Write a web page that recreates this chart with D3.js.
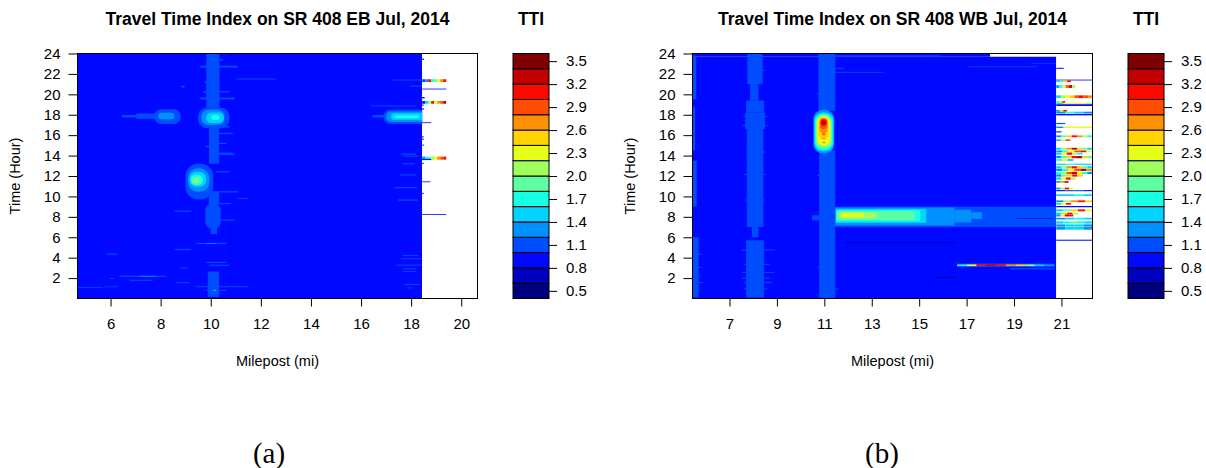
<!DOCTYPE html>
<html>
<head>
<meta charset="utf-8">
<script src="https://cdn.jsdelivr.net/npm/d3@7"></script>
<style>
  html, body { margin: 0; padding: 0; background: #fff; }
  svg { display: block; }
  text { font-family: "Liberation Sans", Arial, sans-serif; fill: #000; }
  text.caption { font-family: "Liberation Serif", "Times New Roman", serif; }
</style>
</head>
<body>
<svg id="chart" width="1206" height="468"></svg>
<script>
// ---- colour key: 16 TTI bands (0.4 .. 3.6, step 0.2) on a jet ramp ----
const ttiLevels = [0.4, 0.6, 0.8, 1.0, 1.2, 1.4, 1.6, 1.8, 2.0, 2.2, 2.4, 2.6, 2.8, 3.0, 3.2, 3.4, 3.6];
const ttiColors = ["#00007F", "#0000C3", "#0008FF", "#004CFF", "#0090FF", "#00D4FF", "#19FFE5", "#5DFFA1",
                   "#A1FF5D", "#E5FF19", "#FFD400", "#FF9000", "#FF4C00", "#FF0800", "#C30000", "#7F0000"];
const ttiTicks = [0.5, 0.8, 1.1, 1.4, 1.7, 2.0, 2.3, 2.6, 2.9, 3.2, 3.5];

// ---- axes ----
const hourDomain = [0, 24];
const hourTicks = [2, 4, 6, 8, 10, 12, 14, 16, 18, 20, 22, 24];
const ebMileDomain = [4.68, 20.65];
const ebMileTicks = [6, 8, 10, 12, 14, 16, 18, 20];
const wbMileDomain = [5.44, 22.31];
const wbMileTicks = [7, 9, 11, 13, 15, 17, 19, 21];
const ebMeasured = [4.68, 18.44];   // mileposts covered by the EB detectors
const wbMeasured = [5.44, 20.78];   // mileposts covered by the WB detectors

// ---- Eastbound ----
// cells: [mileStart, mileEnd, hourStart, hourEnd, TTI]
const ebCells = [
  [4.68, 18.44, 0, 24, 0.9],
  // recurring slow zone around milepost 10
  [9.82, 10.35, 18.7, 24, 1.1], [9.93, 10.33, 13.2, 16.7, 1.1], [9.92, 10.33, 9.2, 10.5, 1.1],
  [10.0, 10.25, 6.3, 6.9, 1.1], [9.88, 10.33, 0.15, 2.65, 1.1],
  [9.55, 11.08, 22.62, 22.8, 1.1], [11.02, 12.62, 21.45, 21.55, 1.1], [8.82, 8.95, 20.65, 20.85, 1.1],
  [9.69, 10.75, 20.18, 20.32, 1.1], [9.55, 10.95, 19.5, 19.68, 1.1], [9.95, 10.75, 16.75, 16.9, 1.1],
  [10.22, 10.88, 16.1, 16.24, 1.1], [10.08, 10.62, 15.12, 15.26, 1.1], [9.95, 10.88, 14.16, 14.3, 1.1],
  [10.35, 10.95, 14.05, 14.18, 1.1], [10.22, 10.75, 12.36, 12.48, 1.1], [10.08, 11.08, 10.38, 10.52, 1.1],
  [11.08, 11.48, 9.74, 9.84, 1.1], [10.22, 10.8, 9.24, 9.36, 1.1], [8.55, 9.22, 8.5, 8.62, 1.1],
  [10.35, 10.95, 7.62, 7.74, 1.1], [9.42, 10.62, 5.33, 5.45, 1.1], [9.82, 10.2, 5.35, 5.43, 1.3],
  [8.55, 9.22, 4.74, 4.86, 1.1], [5.83, 6.29, 4.28, 4.4, 1.1], [9.82, 10.62, 3.48, 3.58, 1.1],
  [9.95, 10.75, 3.2, 3.32, 1.1], [8.75, 9.09, 2.95, 3.05, 1.1], [6.36, 8.22, 2.12, 2.24, 1.1],
  [7.16, 7.82, 2.14, 2.22, 1.3], [6.76, 7.69, 1.74, 1.84, 1.1], [5.96, 6.16, 1.92, 2.0, 1.1],
  [8.62, 9.15, 1.5, 1.6, 1.1], [5.76, 6.29, 1.1, 1.18, 1.1], [9.42, 11.48, 1.1, 1.2, 1.1],
  [4.68, 5.69, 1.02, 1.1, 1.1], [9.82, 10.62, 0.75, 0.86, 1.1], [10.08, 10.22, 0.76, 0.85, 1.5],
  [9.88, 10.35, 0.4, 0.55, 1.1],
  [9.75, 9.92, 21.1, 21.25, 1.1], [10.35, 10.5, 23.3, 23.45, 1.1], [9.78, 9.93, 14.8, 14.95, 1.1],
  // short slowdowns near the east end
  [17.27, 18.44, 21.35, 21.45, 1.1], [17.94, 18.44, 20.76, 20.86, 1.1], [16.4, 18.2, 18.82, 18.92, 1.1],
  [17.6, 18.2, 14.08, 14.2, 1.1], [17.7, 18.3, 13.9, 14.0, 1.1], [17.67, 18.14, 13.15, 13.25, 1.1],
  [17.54, 18.2, 12.05, 12.15, 1.1], [17.34, 18.23, 10.8, 10.92, 1.1], [17.47, 18.27, 9.58, 9.7, 1.1],
  [17.67, 18.3, 4.15, 4.25, 1.1], [17.6, 18.4, 3.85, 3.95, 1.1], [17.4, 18.4, 3.22, 3.32, 1.1],
  [17.67, 18.2, 2.85, 2.95, 1.1], [17.67, 18.2, 2.62, 2.7, 1.1], [17.74, 18.33, 1.33, 1.43, 1.1],
  [17.85, 18.07, 1.0, 1.08, 1.1],
  // faster-than-typical readings at milepost 10.8
  [10.75, 10.85, 23.75, 23.85, 0.7], [10.76, 10.83, 7.0, 7.1, 0.7], [10.76, 10.83, 6.6, 6.7, 0.7],
  [10.76, 10.83, 6.3, 6.4, 0.7], [10.76, 10.83, 5.9, 6.0, 0.7], [10.76, 10.83, 5.6, 5.7, 0.7],
  [10.76, 10.83, 5.3, 5.4, 0.7], [10.76, 10.83, 4.9, 5.0, 0.7], [10.76, 10.83, 4.5, 4.6, 0.7],
  [10.76, 10.83, 4.1, 4.2, 0.7], [10.76, 10.83, 3.7, 3.8, 0.7], [10.76, 10.83, 3.2, 3.3, 0.7],
  [10.76, 10.83, 2.8, 2.9, 0.7], [10.76, 10.83, 2.4, 2.5, 0.7], [10.76, 10.83, 1.9, 2.0, 0.7],
  [10.76, 10.83, 1.5, 1.6, 0.7], [10.76, 10.83, 1.0, 1.1, 0.7], [10.76, 10.83, 0.6, 0.7, 0.7]
];
// blobs (rounded congestion pockets): [mileStart, mileEnd, hourStart, hourEnd, TTI]
const ebBlobs = [
  // PM peak at milepost 10
  [9.49, 10.75, 16.67, 18.72, 1.1], [9.62, 10.55, 17.0, 18.5, 1.3],
  [9.82, 10.52, 17.18, 18.22, 1.5], [10.02, 10.35, 17.5, 17.97, 1.7],
  // PM queue near milepost 8
  [6.45, 7.4, 17.74, 17.97, 1.1], [7.0, 8.0, 17.6, 18.12, 1.1],
  [7.75, 8.8, 17.09, 18.53, 1.1], [7.9, 8.55, 17.55, 18.2, 1.3],
  // midday hotspot near milepost 9.3
  [8.99, 10.1, 9.7, 13.2, 1.1], [9.09, 9.95, 10.45, 12.75, 1.3], [9.15, 9.82, 10.94, 12.42, 1.5],
  [9.2, 9.69, 11.1, 12.1, 1.7], [9.26, 9.6, 11.27, 11.86, 1.9], [9.33, 9.51, 11.37, 11.66, 2.1],
  // AM pocket at milepost 10
  [9.78, 10.4, 6.8, 9.3, 1.1],
  // PM queue at the east end
  [16.45, 17.3, 17.72, 17.98, 1.1], [16.9, 18.9, 17.1, 18.5, 1.1], [17.0, 18.8, 17.3, 18.32, 1.3],
  [17.2, 18.7, 17.5, 18.15, 1.5], [17.35, 18.3, 17.65, 17.95, 1.7]
];
// streaks: [hourStart, hourEnd, mileStart, mileEnd, TTI values along the streak]
const ebStreaks = [
  [23.38, 23.5, 18.44, 18.52, [0.9]],
  [21.2, 21.48, 18.44, 19.4, [1.0, 1.3, 3.1, 1.6, 1.9, 2.3, 2.7, 3.1]],
  [20.48, 20.56, 18.44, 19.4, [0.9]],
  [19.6, 19.74, 18.44, 18.54, [0.9]],
  [19.08, 19.34, 18.44, 19.4, [0.9, 1.5, 2.0, 3.1, 2.3, 2.6, 2.9, 3.2]],
  [18.88, 19.0, 18.44, 18.5, [0.9]],
  [18.5, 18.62, 18.44, 18.52, [0.9]],
  [17.18, 17.26, 18.44, 18.8, [0.9]],
  [15.77, 15.89, 18.44, 18.5, [0.9]],
  [15.54, 15.66, 18.44, 18.5, [0.9]],
  [14.98, 15.07, 18.44, 18.52, [0.9]],
  [13.6, 13.9, 18.44, 19.4, [1.3, 1.6, 1.8, 2.0, 2.3, 2.6, 2.9, 3.1]],
  [13.56, 13.68, 18.44, 18.8, [0.9]],
  [13.17, 13.29, 18.44, 18.5, [0.9]],
  [11.39, 11.47, 18.44, 18.77, [0.9]],
  [10.23, 10.35, 18.44, 18.5, [0.9]],
  [8.19, 8.27, 18.44, 19.4, [0.9]]
];

// ---- Westbound ----
const wbCells = [
  [5.44, 20.78, 0, 23.68, 0.9], [5.44, 17.99, 23.68, 24, 0.9],
  // west end
  [5.44, 5.6, 19.5, 23.8, 1.1], [5.44, 5.55, 14.5, 18.8, 1.1], [5.44, 5.62, 9.0, 13.5, 1.1],
  [5.44, 5.7, 0.1, 6.0, 1.1], [5.44, 5.85, 4.3, 4.4, 1.1], [5.44, 5.8, 3.0, 3.1, 1.1],
  [5.44, 5.9, 1.5, 1.6, 1.1], [5.44, 5.75, 2.2, 2.3, 1.1],
  // all-day slow zone at milepost 8
  [7.75, 8.4, 21.0, 24, 1.1], [7.87, 8.22, 19.4, 21.0, 1.1], [7.7, 8.46, 18.2, 19.4, 1.1],
  [7.66, 8.5, 16.6, 18.2, 1.1], [7.73, 8.43, 7.0, 16.6, 1.1], [7.94, 8.22, 6.0, 7.0, 1.1],
  [7.7, 8.45, 0.1, 5.7, 1.1], [7.5, 8.93, 4.7, 4.8, 1.1], [7.59, 8.8, 1.5, 1.6, 1.1],
  [7.62, 8.7, 3.3, 3.4, 1.1], [7.6, 8.6, 0.9, 1.0, 1.1], [7.55, 8.9, 2.5, 2.58, 1.1],
  [7.5, 8.7, 1.95, 2.05, 1.1], [7.58, 8.6, 17.8, 17.9, 1.1], [7.55, 8.62, 16.9, 17.0, 1.1],
  [7.62, 8.55, 12.1, 12.2, 1.1], [7.65, 8.5, 9.6, 9.7, 1.1], [7.68, 8.55, 14.3, 14.4, 1.1],
  [7.8, 8.5, 22.3, 22.4, 1.1],
  // all-day slow zone at milepost 11
  [10.78, 11.46, 0, 14.5, 1.1], [10.75, 11.46, 18.4, 24, 1.1],
  [11.46, 11.81, 22.5, 22.6, 1.1], [11.46, 13.5, 22.12, 22.2, 1.1], [11.46, 11.6, 0.9, 1.0, 1.1],
  [10.68, 10.78, 20.0, 20.1, 1.1], [10.7, 10.78, 12.0, 12.12, 1.1], [10.7, 10.78, 3.0, 3.1, 1.1],
  // AM peak queue
  [10.48, 11.46, 7.65, 8.15, 1.1], [11.46, 20.78, 7.0, 9.0, 1.1],
  [11.46, 16.5, 7.15, 8.92, 1.3], [16.5, 17.2, 7.45, 8.7, 1.3], [17.2, 17.65, 7.8, 8.45, 1.3],
  [11.48, 15.3, 7.4, 8.78, 1.5], [11.5, 15.05, 7.55, 8.66, 1.7], [11.55, 14.8, 7.7, 8.55, 1.9],
  [11.6, 13.2, 7.85, 8.45, 2.1], [11.7, 12.65, 7.95, 8.38, 2.3], [19.12, 20.66, 7.8, 7.88, 0.9],
  // night-time lows and other streaks
  [11.81, 16.52, 5.47, 5.53, 0.5], [15.72, 16.52, 2.02, 2.09, 0.5],
  [16.6, 20.7, 3.1, 3.42, 1.1], [18.84, 20.7, 2.85, 2.98, 1.1],
  [11.46, 15.9, 23.72, 23.82, 1.1], [17.08, 19.97, 22.66, 22.74, 1.1], [19.75, 20.74, 23.0, 23.07, 1.1]
];
const wbBlobs = [
  // PM hotspot at milepost 11
  [10.54, 11.42, 14.2, 18.5, 1.3], [10.57, 11.39, 14.4, 18.25, 1.5], [10.61, 11.35, 14.55, 18.1, 1.7],
  [10.64, 11.32, 14.7, 18.0, 1.9], [10.67, 11.28, 14.85, 17.9, 2.1], [10.69, 11.25, 15.0, 17.85, 2.3],
  [10.75, 11.18, 15.6, 17.75, 2.5], [10.8, 11.14, 16.2, 17.68, 2.7], [10.83, 11.11, 16.6, 17.6, 2.9],
  [10.85, 11.1, 16.9, 17.55, 3.1], [10.88, 11.06, 17.05, 17.45, 3.3],
  [10.9, 11.05, 16.0, 16.2, 2.9], [10.9, 11.05, 15.6, 15.75, 2.7], [10.92, 11.04, 15.2, 15.35, 2.6]
];
const wbStreaks = [
  [3.17, 3.34, 16.6, 20.7, [1.6, 2.3, 3.1, 3.3, 3.1, 2.7, 2.4, 2.0, 1.5, 1.3]],
  [22.5, 22.6, 20.78, 21.1, [0.9]],
  [21.36, 21.44, 20.78, 22.31, [0.9]],
  [21.2, 21.36, 20.78, 21.4, [1.4, 1.9, 2.4, 3.1]],
  [20.63, 20.9, 20.78, 21.58, [1.3, 1.7, 2.2, 2.9, 3.2, 2.0]],
  [19.63, 19.9, 20.78, 22.31, [1.5, 2.0, 2.3, 2.5, 2.8, 3.1, 2.9, 2.6]],
  [19.17, 19.33, 20.78, 21.16, [1.6, 2.4, 3.1]],
  [19.06, 19.16, 20.78, 22.31, [1.4, 2.3, 2.3, 2.3, 2.1]],
  [18.86, 19.03, 20.78, 22.31, [0.9]],
  [18.3, 18.47, 20.78, 21.23, [1.3, 2.2, 3.0]],
  [18.13, 18.3, 20.78, 22.31, [1.3, 1.6, 1.4, 1.2]],
  [17.94, 18.08, 20.78, 22.31, [0.9]],
  [17.08, 17.2, 20.78, 21.16, [1.1]],
  [16.7, 16.84, 20.78, 22.31, [1.3, 2.2, 2.3, 2.3, 2.2]],
  [16.27, 16.38, 20.78, 21.0, [0.9]],
  [15.8, 15.98, 20.78, 22.31, [1.3, 1.8, 2.4, 3.0, 2.6, 2.0, 1.6]],
  [15.45, 15.58, 20.78, 21.37, [1.2, 2.0, 3.1]],
  [14.58, 14.76, 20.78, 22.31, [1.4, 2.0, 2.7, 3.2, 2.5, 1.9, 1.5]],
  [14.33, 14.5, 20.78, 22.31, [1.2, 1.6, 2.2, 2.8, 3.1, 2.3]],
  [14.08, 14.3, 20.78, 21.9, [1.5, 2.3, 3.0, 2.1, 1.6]],
  [13.74, 13.96, 20.78, 22.31, [1.3, 1.9, 2.5, 3.1, 3.3, 2.4, 1.8]],
  [13.48, 13.66, 20.78, 21.5, [1.6, 2.2, 1.5]],
  [13.09, 13.21, 20.78, 22.31, [1.5, 1.6, 1.5, 1.4]],
  [12.74, 12.96, 20.78, 22.31, [1.4, 2.0, 2.6, 3.1, 2.4, 1.8, 1.4]],
  [12.49, 12.71, 20.78, 22.31, [1.2, 1.7, 2.3, 2.9, 3.3, 2.7]],
  [12.19, 12.41, 20.78, 22.31, [1.6, 2.1, 2.8, 3.2, 2.2, 1.6, 1.3]],
  [11.94, 12.16, 20.78, 21.9, [1.3, 1.9, 2.4, 3.0, 2.5]],
  [11.64, 11.86, 20.78, 21.6, [1.5, 2.2, 3.1, 2.0]],
  [11.34, 11.5, 20.78, 21.3, [1.3, 2.6, 3.2]],
  [10.69, 10.86, 20.78, 21.5, [1.2, 2.1, 3.0, 2.3]],
  [10.51, 10.62, 20.78, 22.31, [0.9, 1.1, 1.1, 0.9]],
  [10.04, 10.21, 20.78, 22.31, [1.4, 1.5, 1.6, 1.5]],
  [9.44, 9.61, 20.78, 22.31, [1.3, 2.0, 2.6, 3.0, 2.4]],
  [9.19, 9.36, 20.78, 21.4, [1.5, 2.3, 3.1]],
  [8.94, 9.06, 20.78, 22.31, [0.9]],
  [8.54, 8.73, 20.78, 22.31, [1.4, 1.8, 2.4, 3.0, 2.2]],
  [8.24, 8.41, 20.78, 21.7, [1.5, 2.5, 3.1, 2.0]],
  [8.04, 8.23, 20.78, 21.5, [1.3, 2.2, 3.2, 3.0]],
  [7.74, 7.91, 20.78, 22.31, [1.2, 1.5, 1.7, 1.4]],
  [7.34, 7.56, 20.78, 22.31, [1.4, 1.6, 1.9, 1.7, 1.4]],
  [7.04, 7.26, 20.78, 22.31, [1.3, 1.5, 1.4, 1.3]],
  [6.74, 7.0, 20.78, 22.31, [1.2, 1.4, 1.5, 1.3]],
  [5.66, 5.76, 20.78, 22.31, [0.9]]
];

// ---- drawing ----
const svg = d3.select("#chart");
const W = 400, H = 245;
const color = d3.scaleThreshold().domain(ttiLevels.slice(1, -1)).range(ttiColors);

function streakCells(streaks) {
  return streaks.flatMap(([h0, h1, m0, m1, vals]) => {
    const step = (m1 - m0) / vals.length;
    return vals.map((v, i) => [m0 + i * step, m0 + (i + 1) * step, h0, h1, v]);
  });
}

function drawPanel(p) {
  const g = svg.append("g").attr("transform", `translate(${p.left},${p.top})`);
  const x = d3.scaleLinear().domain(p.mileDomain).range([0, W]);
  const y = d3.scaleLinear().domain(hourDomain).range([H, 0]);

  const defs = g.append("defs");
  defs.append("clipPath").attr("id", p.id + "-plot")
    .append("rect").attr("width", W).attr("height", H);
  defs.append("clipPath").attr("id", p.id + "-data")
    .append("rect").attr("x", x(p.measured[0])).attr("width", x(p.measured[1]) - x(p.measured[0]))
    .attr("height", H);

  const rectAttrs = sel => sel
    .attr("x", d => x(d[0])).attr("y", d => y(d[3]))
    .attr("width", d => x(d[1]) - x(d[0])).attr("height", d => y(d[2]) - y(d[3]))
    .attr("fill", d => color(d[4]));

  const dataLayer = g.append("g").attr("clip-path", `url(#${p.id}-data)`);
  dataLayer.append("g").selectAll("rect").data(p.cells).join("rect").call(rectAttrs);
  dataLayer.append("g").selectAll("rect").data(p.blobs).join("rect").call(rectAttrs)
    .attr("rx", d => Math.min(x(d[1]) - x(d[0]), y(d[2]) - y(d[3])) * 0.45)
    .attr("ry", d => Math.min(x(d[1]) - x(d[0]), y(d[2]) - y(d[3])) * 0.45);

  g.append("g").attr("clip-path", `url(#${p.id}-plot)`)
    .selectAll("rect").data(streakCells(p.streaks)).join("rect").call(rectAttrs);

  // frame and axes
  g.append("rect").attr("width", W).attr("height", H)
    .attr("fill", "none").attr("stroke", "#000").attr("stroke-width", 1);

  const xa = g.append("g").attr("transform", `translate(0,${H})`)
    .call(d3.axisBottom(x).tickValues(p.mileTicks).tickFormat(d3.format("d")).tickSize(8).tickPadding(12));
  const ya = g.append("g")
    .call(d3.axisLeft(y).tickValues(hourTicks).tickFormat(d3.format("d")).tickSize(9).tickPadding(8));
  [xa, ya].forEach(a => {
    a.select(".domain").remove();
    a.selectAll("text").attr("font-size", 15).attr("fill", "#000");
    a.selectAll("line").attr("stroke", "#000");
  });

  g.append("text").attr("x", W / 2).attr("y", -28.5).attr("text-anchor", "middle")
    .attr("font-weight", "bold").attr("font-size", 17.5).text(p.title);
  g.append("text").attr("x", W / 2).attr("y", 312).attr("text-anchor", "middle")
    .attr("font-size", 14.5).text("Milepost (mi)");
  g.append("text").attr("transform", `translate(-57.5,${H / 2}) rotate(-90)`).attr("text-anchor", "middle")
    .attr("font-size", 14.5).text("Time (Hour)");

  // colour key
  const lg = g.append("g").attr("transform", `translate(${W + 35.5},0)`);
  const ly = d3.scaleLinear().domain([ttiLevels[0], ttiLevels[ttiLevels.length - 1]]).range([H, 0]);
  lg.selectAll("rect").data(d3.pairs(ttiLevels)).join("rect")
    .attr("x", 0).attr("width", 36)
    .attr("y", d => ly(d[1])).attr("height", d => ly(d[0]) - ly(d[1]))
    .attr("fill", (d, i) => ttiColors[i]).attr("stroke", "#000").attr("stroke-width", 1);
  const la = lg.append("g").attr("transform", "translate(36,0)")
    .call(d3.axisRight(ly).tickValues(ttiTicks).tickFormat(d3.format(".1f")).tickSize(8).tickPadding(9));
  la.select(".domain").remove();
  la.selectAll("text").attr("font-size", 15).attr("fill", "#000");
  la.selectAll("line").attr("stroke", "#000");
  lg.append("text").attr("x", 18).attr("y", -28.5).attr("text-anchor", "middle")
    .attr("font-weight", "bold").attr("font-size", 17.5).text("TTI");

  svg.append("text").attr("class", "caption").attr("x", p.captionX).attr("y", 462.5)
    .attr("text-anchor", "middle").attr("font-size", 29).text(p.caption);
}

drawPanel({
  id: "eb", left: 77.5, top: 53.5, title: "Travel Time Index on SR 408 EB Jul, 2014",
  mileDomain: ebMileDomain, mileTicks: ebMileTicks, measured: ebMeasured,
  cells: ebCells, blobs: ebBlobs, streaks: ebStreaks, caption: "(a)", captionX: 269
});
drawPanel({
  id: "wb", left: 692.5, top: 53.5, title: "Travel Time Index on SR 408 WB Jul, 2014",
  mileDomain: wbMileDomain, mileTicks: wbMileTicks, measured: wbMeasured,
  cells: wbCells, blobs: wbBlobs, streaks: wbStreaks, caption: "(b)", captionX: 882
});
</script>
</body>
</html>
